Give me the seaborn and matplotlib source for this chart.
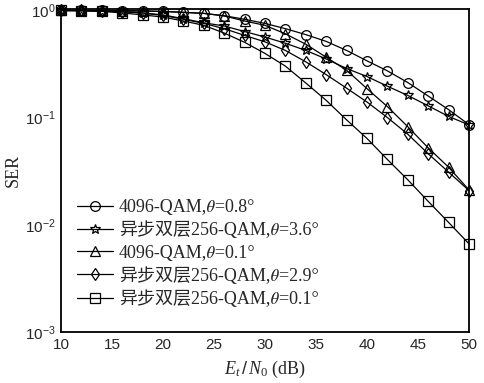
import numpy as np
import pandas as pd
import matplotlib
matplotlib.use("Agg")
import matplotlib.pyplot as plt
import seaborn as sns

# Et/N0 in dB, one point every 2 dB
snr_db = [10, 12, 14, 16, 18, 20, 22, 24, 26, 28, 30,
          32, 34, 36, 38, 40, 42, 44, 46, 48, 50]

# SER
ser_4096_08 = [0.99, 0.99, 0.99, 0.985, 0.98, 0.97, 0.95, 0.93, 0.885, 0.82, 0.75,
               0.67, 0.59, 0.51, 0.42, 0.336, 0.271, 0.211, 0.158, 0.118, 0.0855]
ser_256_36 = [0.99, 0.99, 0.985, 0.97, 0.94, 0.90, 0.83, 0.76, 0.71, 0.63, 0.56,
              0.49, 0.42, 0.35, 0.285, 0.24, 0.195, 0.16, 0.128, 0.102, 0.085]
ser_4096_01 = [0.99, 0.99, 0.99, 0.985, 0.98, 0.97, 0.952, 0.93, 0.88, 0.79, 0.72,
               0.60, 0.48, 0.363, 0.275, 0.185, 0.126, 0.0818, 0.052, 0.0343, 0.0211]
ser_256_29 = [0.99, 0.99, 0.98, 0.965, 0.935, 0.89, 0.82, 0.75, 0.67, 0.58, 0.505,
              0.42, 0.329, 0.25, 0.187, 0.139, 0.0996, 0.0697, 0.0458, 0.0309, 0.0208]
ser_256_01 = [0.99, 0.98, 0.97, 0.94, 0.90, 0.86, 0.79, 0.72, 0.61, 0.50, 0.394,
              0.30, 0.209, 0.144, 0.0948, 0.0636, 0.0405, 0.0262, 0.0165, 0.0105, 0.00664]

# italic theta as a plain character, so the Chinese text can fall back to a CJK font
labels = ['4096-QAM,\U0001D703=0.8°',
          '异步双层256-QAM,\U0001D703=3.6°',
          '4096-QAM,\U0001D703=0.1°',
          '异步双层256-QAM,\U0001D703=2.9°',
          '异步双层256-QAM,\U0001D703=0.1°']
series = [ser_4096_08, ser_256_36, ser_4096_01, ser_256_29, ser_256_01]
markers = ['o', '*', '^', 'd', 's']
msizes = [7, 7, 7, 6, 6.5]

sns.set_style("white")
plt.rcParams['font.family'] = ['Liberation Serif', 'Noto Sans CJK SC', 'STIXGeneral', 'DejaVu Sans']
plt.rcParams['mathtext.fontset'] = 'custom'
plt.rcParams['mathtext.rm'] = 'Liberation Sans'
plt.rcParams['mathtext.it'] = 'Liberation Serif:italic'

fig = plt.figure(figsize=(4.84, 3.83), dpi=100)
ax = fig.add_axes([0.126, 0.133, 0.843, 0.8435])

for lab, ser, mk, ms in zip(labels, series, markers, msizes):
    sns.lineplot(x=snr_db, y=ser, ax=ax, color='k', lw=0.9, marker=mk, ms=ms,
                 mfc='none', mec='k', mew=0.9, label=lab, clip_on=False,
                 zorder=3)

ax.set_yscale('log')
ax.set_xlim(10, 50)
ax.set_ylim(1e-3, 10 ** (1 / 107))
ax.set_xticks([10, 15, 20, 25, 30, 35, 40, 45, 50])
ax.set_yticks([1e-3, 1e-2, 1e-1, 1e0])
ax.minorticks_off()
ax.tick_params(direction='in', length=4, width=1, pad=4, labelsize=11,
               top=False, right=False)
for t in ax.get_xticklabels() + ax.get_yticklabels():
    t.set_family('Liberation Sans')

for sp in ax.spines.values():
    sp.set_linewidth(1.3)
    sp.set_color('k')

ax.set_ylabel('SER', fontsize=13, labelpad=2)
ax.set_xlabel('$E_t\\,/\\,N_{\\mathregular{0}}$ (dB)', fontsize=13, labelpad=5)

ax.legend(loc='lower left', bbox_to_anchor=(0.04, 0.075), frameon=False,
          fontsize=13, handlelength=2.0, handletextpad=0.3, labelspacing=0.3,
          borderpad=0, borderaxespad=0)

fig.savefig('out.png', dpi=100)
